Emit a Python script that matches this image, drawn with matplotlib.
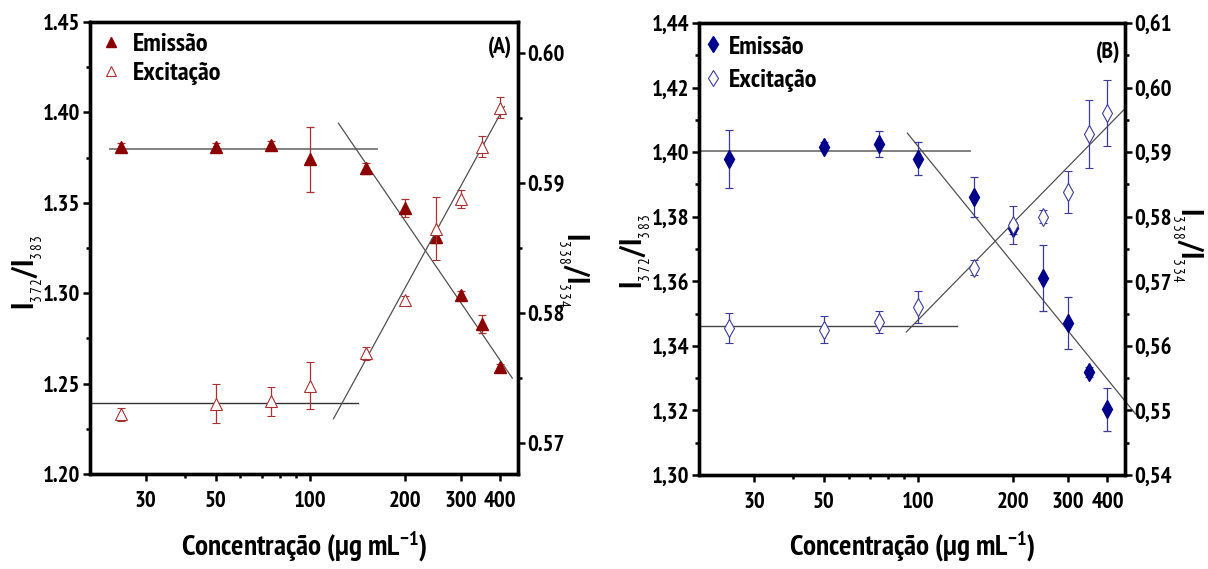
import matplotlib
matplotlib.use("Agg")
import matplotlib.pyplot as plt
from matplotlib.lines import Line2D
from matplotlib.ticker import FixedLocator, FixedFormatter, MultipleLocator, FuncFormatter

FONT = "PT Sans Narrow"
plt.rcParams["font.family"] = [FONT, "DejaVu Sans"]
plt.rcParams["font.weight"] = "bold"
plt.rcParams["mathtext.fontset"] = "custom"
plt.rcParams["mathtext.rm"] = FONT + ":weight=normal"
plt.rcParams["mathtext.it"] = FONT + ":weight=normal"
plt.rcParams["mathtext.bf"] = FONT + ":bold"

# Concentrations (ug/mL)
conc = [25, 50, 75, 100, 150, 200, 250, 300, 350, 400]
x_major = [30, 50, 100, 200, 300, 400]
x_minor = [40, 60, 70, 80, 90]

# Panel A: emission ratio I372/I383 (left) and excitation ratio I338/I334 (right)
em_a = [1.381, 1.381, 1.382, 1.374, 1.369, 1.347, 1.331, 1.299, 1.283, 1.259]
em_a_err = [0.002, 0.002, 0.002, 0.018, 0.003, 0.005, 0.003, 0.002, 0.005, 0.002]
ex_a = [0.5722, 0.5730, 0.5732, 0.5744, 0.5769, 0.5810, 0.5865, 0.5888, 0.5928, 0.5958]
ex_a_err = [0.0005, 0.0015, 0.0011, 0.0018, 0.0005, 0.0003, 0.0024, 0.0007, 0.0008, 0.0008]

# Panel A fitted segments (plateau + linear-in-log region)
fit_em_a_flat_x = [23.1, 162.0]
fit_em_a_flat_y = [1.3798, 1.3798]
fit_em_a_drop_x = [122.7, 436.5]
fit_em_a_drop_y = [1.394, 1.253]
fit_ex_a_flat_x = [20.3, 142.0]
fit_ex_a_flat_y = [0.5731, 0.5731]
fit_ex_a_rise_x = [118.3, 412.0]
fit_ex_a_rise_y = [0.57185, 0.5959]

# Panel B
em_b = [1.3979, 1.4016, 1.4025, 1.3980, 1.3861, 1.3765, 1.3610, 1.3471, 1.3319, 1.3204]
em_b_err = [0.0091, 0.0014, 0.0040, 0.0050, 0.0062, 0.0020, 0.0102, 0.0080, 0.0015, 0.0067]
ex_b = [0.5628, 0.5625, 0.5637, 0.5660, 0.5721, 0.5787, 0.5800, 0.5838, 0.5928, 0.5961]
ex_b_err = [0.0023, 0.0021, 0.0017, 0.0025, 0.0012, 0.0029, 0.0010, 0.0033, 0.0053, 0.0051]

fit_em_b_flat_x = [20.2, 145.6]
fit_em_b_flat_y = [1.4004, 1.4004]
fit_em_b_drop_x = [92.2, 491.6]
fit_em_b_drop_y = [1.4059, 1.3189]
fit_ex_b_flat_x = [20.1, 132.3]
fit_ex_b_flat_y = [0.5631, 0.5631]
fit_ex_b_rise_x = [91.5, 457.0]
fit_ex_b_rise_y = [0.56215, 0.59684]

RED = "#8b0000"
RED_LIGHT = "#a83232"
NAVY = "#00008b"
NAVY_LIGHT = "#3c3c96"
FIT = "#505050"

fig = plt.figure(figsize=(12.08, 5.69), dpi=100)
axA = fig.add_axes([0.0745, 0.1670, 0.3543, 0.7943])
axB = fig.add_axes([0.5786, 0.1652, 0.3527, 0.7944])

TICK_FS = 16.5
LABEL_FS = 21
YLABEL_FS = 22
LEGEND_FS = 19
PANEL_FS = 17


def comma(v, pos):
    return f"{v:.2f}".replace(".", ",")


def dot(v, pos):
    return f"{v:.2f}"


def style_axes(ax, ax2, fmt):
    ax.set_xscale("log")
    ax.set_xlim(20, 455)
    ax.xaxis.set_major_locator(FixedLocator(x_major))
    ax.xaxis.set_major_formatter(FixedFormatter([str(v) for v in x_major]))
    ax.xaxis.set_minor_locator(FixedLocator(x_minor))
    ax.xaxis.set_minor_formatter(FixedFormatter([""] * len(x_minor)))
    for a in (ax, ax2):
        for s in a.spines.values():
            s.set_linewidth(2.4)
        a.tick_params(which="major", direction="out", length=5, width=1.8,
                      labelsize=TICK_FS, pad=2)
        a.tick_params(which="minor", direction="out", length=3, width=1.8)
        a.yaxis.set_major_formatter(FuncFormatter(fmt))
    ax.tick_params(axis="x", which="major", pad=7)


def draw_panel(ax, em, em_err, ex, ex_err, m_em, m_ex, ms, c, c2, fits_l, fits_r):
    ax2 = ax.twinx()
    for fx, fy, lw, col in fits_l:
        ax.plot(fx, fy, color=col, lw=lw, zorder=2, clip_on=False)
    for fx, fy, lw, col in fits_r:
        ax2.plot(fx, fy, color=col, lw=lw, zorder=2, clip_on=False)
    ax.errorbar(conc, em, yerr=em_err, fmt=m_em, ms=ms, mfc=c, mec=c, ecolor=c2,
                elinewidth=0.9, capsize=3, capthick=0.9, zorder=3)
    ax2.errorbar(conc, ex, yerr=ex_err, fmt=m_ex, ms=ms, mfc="white", mec=c2, mew=0.8,
                 ecolor=c2, elinewidth=0.9, capsize=3, capthick=0.9, zorder=3)
    return ax2


# ---- Panel A ----
axA2 = draw_panel(
    axA, em_a, em_a_err, ex_a, ex_a_err, "^", "^", 8, RED, RED_LIGHT,
    [(fit_em_a_flat_x, fit_em_a_flat_y, 1.3, "#777777"),
     (fit_em_a_drop_x, fit_em_a_drop_y, 0.9, FIT)],
    [(fit_ex_a_flat_x, fit_ex_a_flat_y, 1.0, "#333333"),
     (fit_ex_a_rise_x, fit_ex_a_rise_y, 0.9, FIT)])
axA.set_ylim(1.20, 1.45)
axA.yaxis.set_major_locator(MultipleLocator(0.05))
axA.yaxis.set_minor_locator(MultipleLocator(0.025))
axA2.set_ylim(0.5676, 0.6024)
axA2.yaxis.set_major_locator(MultipleLocator(0.01))
axA2.yaxis.set_minor_locator(MultipleLocator(0.005))
style_axes(axA, axA2, dot)

# ---- Panel B ----
axB2 = draw_panel(
    axB, em_b, em_b_err, ex_b, ex_b_err, "d", "d", 9, NAVY, NAVY_LIGHT,
    [(fit_em_b_flat_x, fit_em_b_flat_y, 1.3, "#777777"),
     (fit_em_b_drop_x, fit_em_b_drop_y, 0.9, FIT)],
    [(fit_ex_b_flat_x, fit_ex_b_flat_y, 1.0, "#444444"),
     (fit_ex_b_rise_x, fit_ex_b_rise_y, 0.9, FIT)])
axB.set_ylim(1.30, 1.44)
axB.yaxis.set_major_locator(MultipleLocator(0.02))
axB.yaxis.set_minor_locator(MultipleLocator(0.01))
axB2.set_ylim(0.54, 0.61)
axB2.yaxis.set_major_locator(MultipleLocator(0.01))
axB2.yaxis.set_minor_locator(MultipleLocator(0.005))
style_axes(axB, axB2, comma)

# ---- Labels ----
xlab = "Concentração (µg mL$^{\\mathbf{-1}}$)"
ylab_l = "I$_{{}_{3\\,7\\,2}}$/I$_{{}_{3\\,8\\,3}}$"
ylab_r = "I$_{{}_{3\\,3\\,8}}$/I$_{{}_{3\\,3\\,4}}$"

for ax, ax2, lx, ly, rx, ry, xy in (
        (axA, axA2, -0.147, 0.447, 1.13, 0.451, -0.1615),
        (axB, axB2, -0.148, 0.496, 1.146, 0.509, -0.159)):
    ax.set_xlabel(xlab, fontsize=LABEL_FS, fontweight="bold")
    ax.xaxis.label.set_va("center")
    ax.xaxis.set_label_coords(0.5, xy)
    ax.set_ylabel(ylab_l, fontsize=YLABEL_FS, fontweight="bold")
    ax.yaxis.label.set_va("center")
    ax.yaxis.set_label_coords(lx, ly)
    ax2.set_ylabel(ylab_r, fontsize=YLABEL_FS, fontweight="bold", rotation=270)
    ax2.yaxis.label.set_va("center")
    ax2.yaxis.set_label_coords(rx, ry)

axA.text(0.986, 0.945, "(A)", transform=axA.transAxes, ha="right", va="center",
         fontsize=PANEL_FS, fontweight="bold")
axB.text(0.988, 0.936, "(B)", transform=axB.transAxes, ha="right", va="center",
         fontsize=PANEL_FS, fontweight="bold")

# ---- Legends ----
hA = [Line2D([], [], ls="none", marker="^", ms=7, mfc=RED, mec=RED),
      Line2D([], [], ls="none", marker="^", ms=7, mfc="white", mec=RED_LIGHT, mew=0.8)]
axA.legend(hA, ["Emissão", "Excitação"], loc="upper left",
           bbox_to_anchor=(0.022, 0.977), bbox_transform=axA.transAxes,
           frameon=False, fontsize=LEGEND_FS, handlelength=0.85, handletextpad=0.4,
           labelspacing=0.22, borderpad=0, borderaxespad=0)
hB = [Line2D([], [], ls="none", marker="d", ms=8.5, mfc=NAVY, mec=NAVY),
      Line2D([], [], ls="none", marker="d", ms=8.5, mfc="white", mec=NAVY_LIGHT, mew=0.8)]
axB.legend(hB, ["Emissão", "Excitação"], loc="upper left",
           bbox_to_anchor=(0.011, 0.973), bbox_transform=axB.transAxes,
           frameon=False, fontsize=LEGEND_FS, handlelength=0.7, handletextpad=0.25,
           labelspacing=0.37, borderpad=0, borderaxespad=0)

fig.savefig("out.png", dpi=100)
